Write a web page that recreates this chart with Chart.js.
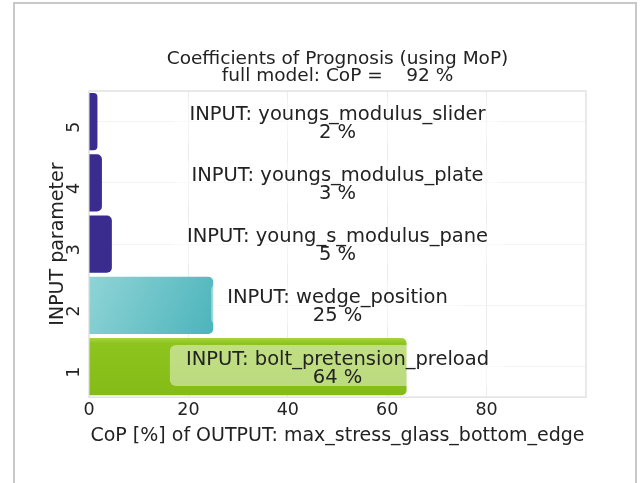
<!DOCTYPE html>
<html>
<head>
<meta charset="utf-8">
<script src="https://cdn.jsdelivr.net/npm/chart.js@4.4.0/dist/chart.umd.min.js"></script>
<style>
html, body { margin: 0; padding: 0; background: #fff; }
#wrap { position: relative; width: 640px; height: 483px; }
</style>
</head>
<body>
<div id="wrap"><canvas id="copChart" width="640" height="483"></canvas></div>
<script>
// data (parameter 1 at the bottom)
const paramIds = ['1', '2', '3', '4', '5'];
const inputNames = ['bolt_pretension_preload', 'wedge_position', 'young_s_modulus_pane', 'youngs_modulus_plate', 'youngs_modulus_slider'];
const copValues = [63.9, 25.0, 4.6, 2.6, 1.7];
const copLabels = ['64 %', '25 %', '5 %', '3 %', '2 %'];
const xTickValues = [0, 20, 40, 60, 80];
const fullModelCoP = '92 %';
const yAxisTitle = 'INPUT parameter';

const FONT = "'DejaVu Sans', Verdana, sans-serif";

// colour of each bar
function barColor(ctx) {
    const chart = ctx.chart;
    const area = chart.chartArea;
    const i = ctx.dataIndex;
    const yScale = chart.scales.y;
    const flat = i === 0 ? '#8cc21c' : i === 1 ? '#6cc4c9' : '#3a2b8f';
    if (!area || !yScale) return flat;
    const cy = yScale.getPixelForValue(i);
    if (!isFinite(cy)) return flat;
    const top = cy - 29;
    if (i === 0) {
        const g = chart.ctx.createLinearGradient(0, top, 0, top + 58);
        g.addColorStop(0, '#a8d640');
        g.addColorStop(0.1, '#8ec41e');
        g.addColorStop(1, '#84bb16');
        return g;
    }
    if (i === 1) {
        const g = chart.ctx.createLinearGradient(area.left, top, area.left + 120, top + 58);
        g.addColorStop(0, '#90d4d6');
        g.addColorStop(1, '#4db5bc');
        return g;
    }
    return flat;
}

// outer grey frame of the picture
const framePlugin = {
    id: 'frame',
    beforeDraw(chart) {
        const c = chart.ctx;
        c.save();
        c.strokeStyle = '#c8c8c8';
        c.lineWidth = 2;
        c.beginPath();
        c.moveTo(14, 483);
        c.lineTo(14, 3);
        c.lineTo(636, 3);
        c.lineTo(636, 483);
        c.stroke();
        c.restore();
    }
};

// light box around the plot area + the rotated y axis title
const boxPlugin = {
    id: 'plotBox',
    beforeDatasetsDraw(chart) {
        const a = chart.chartArea;
        const c = chart.ctx;
        c.save();
        c.strokeStyle = '#e2e2e2';
        c.lineWidth = 1.5;
        c.strokeRect(a.left, a.top, a.right - a.left, a.bottom - a.top);
        // y title sits closer to the rotated ticks than chart.js would put it
        c.translate(a.left - 31, (a.top + a.bottom) / 2);
        c.rotate(-Math.PI / 2);
        c.font = '19px ' + FONT;
        c.fillStyle = '#222';
        c.textAlign = 'center';
        c.textBaseline = 'middle';
        c.fillText(yAxisTitle, 0, 0);
        c.restore();
    }
};

// "INPUT: name / xx %" text in the middle of every row
const rowLabelPlugin = {
    id: 'rowLabels',
    afterDatasetsDraw(chart) {
        const c = chart.ctx;
        const a = chart.chartArea;
        const cx = (a.left + a.right) / 2;
        const meta = chart.getDatasetMeta(0);
        c.save();
        c.font = '19.5px ' + FONT;
        c.textAlign = 'center';
        c.textBaseline = 'middle';
        meta.data.forEach((bar, i) => {
            const line1 = 'INPUT: ' + inputNames[i];
            const w = c.measureText(line1).width + 32;
            const h = 41;
            // half transparent white box, only shows on top of the bars
            c.fillStyle = 'rgba(255,255,255,0.45)';
            c.beginPath();
            c.roundRect(cx - w / 2, bar.y - 1 - h / 2, w, h, 6);
            c.fill();
            c.fillStyle = '#222';
            c.fillText(line1, cx, bar.y - 7);
            c.fillText(copLabels[i], cx, bar.y + 11);
        });
        c.restore();
    }
};

new Chart(document.getElementById('copChart'), {
    type: 'bar',
    data: {
        labels: paramIds,
        datasets: [{
            data: copValues,
            backgroundColor: barColor,
            borderRadius: 5,
            borderSkipped: 'start',
            barPercentage: 0.935,
            categoryPercentage: 1
        }]
    },
    options: {
        indexAxis: 'y',
        responsive: false,
        animation: false,
        layout: { padding: { left: 41.5, right: 54, top: 0, bottom: 35.5 } },
        plugins: {
            legend: { display: false },
            tooltip: { enabled: false },
            title: {
                display: true,
                fullSize: false,
                text: ['Coefficients of Prognosis (using MoP)', 'full model: CoP =    ' + fullModelCoP],
                color: '#222',
                font: { family: FONT, size: 18.5, weight: 'normal', lineHeight: 0.92 },
                padding: { top: 50.5, bottom: 6.5 }
            }
        },
        scales: {
            x: {
                min: 0,
                max: 100,
                afterBuildTicks(scale) {
                    scale.ticks = xTickValues.map(v => ({ value: v }));
                },
                grid: { color: '#ececec', drawTicks: false },
                border: { display: false },
                ticks: { color: '#222', padding: 5, font: { family: FONT, size: 17.5, lineHeight: 1.0 } },
                title: {
                    display: true,
                    text: 'CoP [%] of OUTPUT: max_stress_glass_bottom_edge',
                    color: '#222',
                    font: { family: FONT, size: 19 },
                    padding: { top: 0, bottom: 0 }
                }
            },
            y: {
                reverse: true,
                grid: { color: '#f3f3f3', offset: false, drawTicks: false },
                border: { display: false },
                ticks: { color: '#222', padding: 15, minRotation: 90, maxRotation: 90, font: { family: FONT, size: 17.5, lineHeight: 1.0 } },
                title: { display: false }
            }
        }
    },
    plugins: [framePlugin, boxPlugin, rowLabelPlugin]
});
</script>
</body>
</html>
